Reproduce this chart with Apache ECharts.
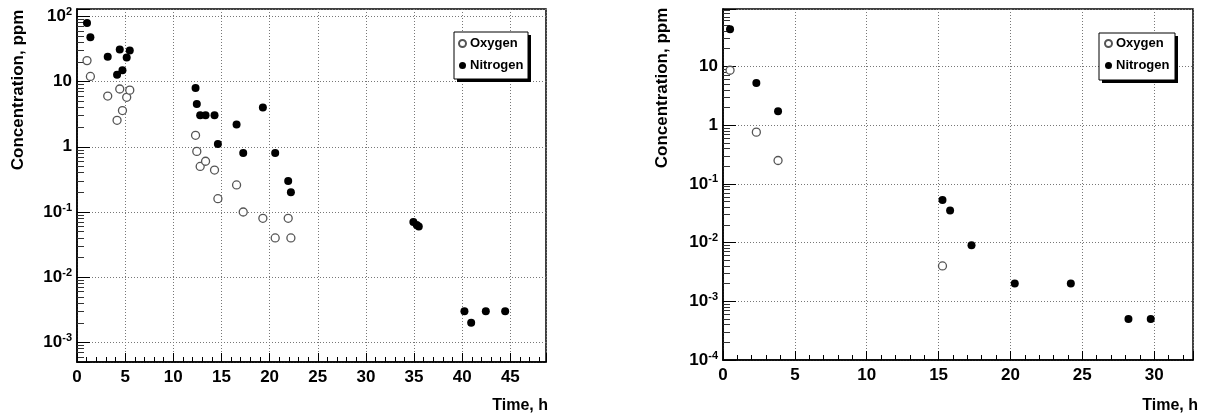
<!DOCTYPE html>
<html>
<head>
<meta charset="utf-8">
<script src="https://cdn.jsdelivr.net/npm/echarts@6/dist/echarts.min.js"></script>
<style>html,body{margin:0;padding:0;background:#fff}#chart{width:1205px;height:419px}</style>
</head>
<body>
<div id="chart"></div>
<script>
// left panel: time in hours, concentration in ppm
const oxyLeftT = [1.04, 1.39, 3.19, 4.16, 4.44, 4.72, 5.16, 5.48, 12.31, 12.44, 12.79, 13.35, 14.28, 14.63, 16.57, 17.26, 19.3, 20.58, 21.93, 22.21];
const oxyLeftC = [21, 12, 6.0, 2.55, 7.7, 3.6, 5.75, 7.4, 1.5, 0.85, 0.5, 0.6, 0.44, 0.16, 0.26, 0.1, 0.08, 0.04, 0.08, 0.04];
const nitLeftT = [1.04, 1.39, 3.19, 4.44, 4.16, 4.72, 5.16, 5.48, 12.31, 12.44, 12.79, 13.35, 14.28, 14.63, 16.57, 17.26, 19.3, 20.58, 21.93, 22.21, 34.93, 35.28, 35.49, 40.23, 40.93, 42.45, 44.46];
const nitLeftC = [79, 48, 24, 31, 12.8, 14.9, 23.5, 30, 8.0, 4.55, 3.05, 3.05, 3.05, 1.1, 2.2, 0.8, 4.0, 0.8, 0.3, 0.2, 0.07, 0.063, 0.06, 0.003, 0.002, 0.003, 0.003];

// right panel
const oxyRightT = [0.49, 2.32, 3.83, 15.27];
const oxyRightC = [8.6, 0.76, 0.25, 0.004];
const nitRightT = [0.49, 2.32, 3.83, 15.27, 15.8, 17.29, 20.3, 24.2, 28.21, 29.76];
const nitRightC = [43, 5.2, 1.73, 0.053, 0.035, 0.009, 0.002, 0.002, 0.0005, 0.0005];

const seriesNames = ['Oxygen', 'Nitrogen'];
const xTitle = 'Time, h';
const yTitle = 'Concentration, ppm';

// minor log ticks: 2..9 inside each decade
const decades = [1e-5, 1e-4, 1e-3, 1e-2, 1e-1, 1, 10, 100];
const minorSteps = [2, 3, 4, 5, 6, 7, 8, 9];
const minorLogTicks = [];
decades.forEach(d => minorSteps.forEach(m => minorLogTicks.push(+(d * m).toPrecision(3))));

const FONT = '"Liberation Sans", Arial, Helvetica, sans-serif';
const pairs = (t, c) => t.map((v, i) => [v, c[i]]);

function logLabel(v) {
  const e = Math.log10(v);
  const r = Math.round(e);
  if (Math.abs(e - r) > 1e-6) return '';
  if (r === 0) return '{b|1}';
  if (r === 1) return '{b|10}';
  return '{b|10}{s|' + r + '}';
}

function xAxis(grid, max) {
  return {
    type: 'value', gridIndex: grid, min: 0, max: max, interval: 5,
    axisLine: { show: true, lineStyle: { color: '#000', width: 1.5 } },
    axisTick: { show: true, inside: true, length: 9, lineStyle: { color: '#000' } },
    minorTick: { show: true, splitNumber: 5, length: 5, lineStyle: { color: '#000' } },
    axisLabel: {
      margin: 7, color: '#000', fontSize: 17, fontWeight: 'bold', fontFamily: FONT,
      formatter: v => (Math.abs(v % 5) < 1e-9 ? String(v) : '')
    },
    splitLine: { show: true, lineStyle: { color: '#777', type: [1, 2], width: 1 } }
  };
}

function yAxis(grid, min, max) {
  return {
    type: 'log', logBase: 10, gridIndex: grid, min: min, max: max, position: 'left',
    axisLine: { show: true, lineStyle: { color: '#000', width: 1.5 } },
    axisTick: { show: true, inside: true, length: 13, lineStyle: { color: '#000' } },
    axisLabel: {
      margin: 5, color: '#000', formatter: logLabel,
      rich: {
        b: { fontSize: 17, fontWeight: 'bold', fontFamily: FONT, color: '#000', lineHeight: 20 },
        s: { fontSize: 11, fontWeight: 'bold', fontFamily: FONT, color: '#000', verticalAlign: 'top', lineHeight: 20 }
      }
    },
    splitLine: { show: true, lineStyle: { color: '#777', type: [1, 2], width: 1 } }
  };
}

// overlay axis that only carries the short minor ticks
function yMinorAxis(grid, min, max) {
  return {
    type: 'log', logBase: 10, gridIndex: grid, min: min, max: max, position: 'left',
    axisLine: { show: false },
    axisLabel: { show: false },
    splitLine: { show: false },
    axisTick: {
      show: true, inside: true, length: 7, lineStyle: { color: '#333' },
      customValues: minorLogTicks.filter(v => v > min && v < max)
    }
  };
}

const openStyle = { color: '#fff', borderColor: '#555', borderWidth: 1.3, opacity: 1 };
const fullStyle = { color: '#000', opacity: 1 };

function legend(left, top) {
  return {
    orient: 'vertical', left: left, top: top, data: seriesNames,
    itemWidth: 7, itemHeight: 7, itemGap: 9, padding: 0,
    textStyle: { color: '#000', fontSize: 13, fontWeight: 'bold', fontFamily: FONT, padding: [0, 0, 0, -1] },
    selectedMode: false
  };
}

// legend frame with the drop shadow
function legendBox(x, y, w, h) {
  return {
    type: 'group', z: 3,
    children: [
      { type: 'rect', z: 3, shape: { x: x + 3, y: y + 3, width: w, height: h }, style: { fill: '#000' } },
      { type: 'rect', z: 3, shape: { x: x, y: y, width: w, height: h }, style: { fill: '#fff', stroke: '#000', lineWidth: 1 } }
    ]
  };
}

function title(x, y, text, rotate) {
  return {
    type: 'text', x: x, y: y, rotation: rotate ? Math.PI / 2 : 0,
    style: {
      text: text, fill: '#000', fontSize: rotate ? 17 : 16, fontWeight: 'bold', fontFamily: FONT,
      align: rotate ? 'center' : 'right', verticalAlign: 'middle'
    }
  };
}

const chart = echarts.init(document.getElementById('chart'));
chart.setOption({
  animation: false,
  backgroundColor: '#fff',
  grid: [
    { left: 77, top: 9, width: 469, height: 353, show: true, borderColor: '#000', borderWidth: 1.5 },
    { left: 723, top: 9, width: 470, height: 351, show: true, borderColor: '#000', borderWidth: 1.5 }
  ],
  xAxis: [xAxis(0, 48.7), xAxis(1, 32.7)],
  yAxis: [yAxis(0, 0.0005, 130), yAxis(1, 0.0001, 95), yMinorAxis(0, 0.0005, 130), yMinorAxis(1, 0.0001, 95)],
  legend: [legend(458, 37), legend(1104, 37)],
  series: [
    { name: seriesNames[0], type: 'scatter', xAxisIndex: 0, yAxisIndex: 0, symbolSize: 8, itemStyle: openStyle, data: pairs(oxyLeftT, oxyLeftC) },
    { name: seriesNames[1], type: 'scatter', xAxisIndex: 0, yAxisIndex: 0, symbolSize: 8, itemStyle: fullStyle, data: pairs(nitLeftT, nitLeftC) },
    { name: seriesNames[0], type: 'scatter', xAxisIndex: 1, yAxisIndex: 1, symbolSize: 8, itemStyle: openStyle, data: pairs(oxyRightT, oxyRightC) },
    { name: seriesNames[1], type: 'scatter', xAxisIndex: 1, yAxisIndex: 1, symbolSize: 8, itemStyle: fullStyle, data: pairs(nitRightT, nitRightC) }
  ],
  graphic: [
    legendBox(454, 32, 74, 47),
    legendBox(1099, 33, 76, 47),
    title(18, 90, yTitle, true),
    title(662, 88, yTitle, true),
    title(548, 406, xTitle, false),
    title(1198, 406, xTitle, false)
  ]
});
</script>
</body>
</html>
